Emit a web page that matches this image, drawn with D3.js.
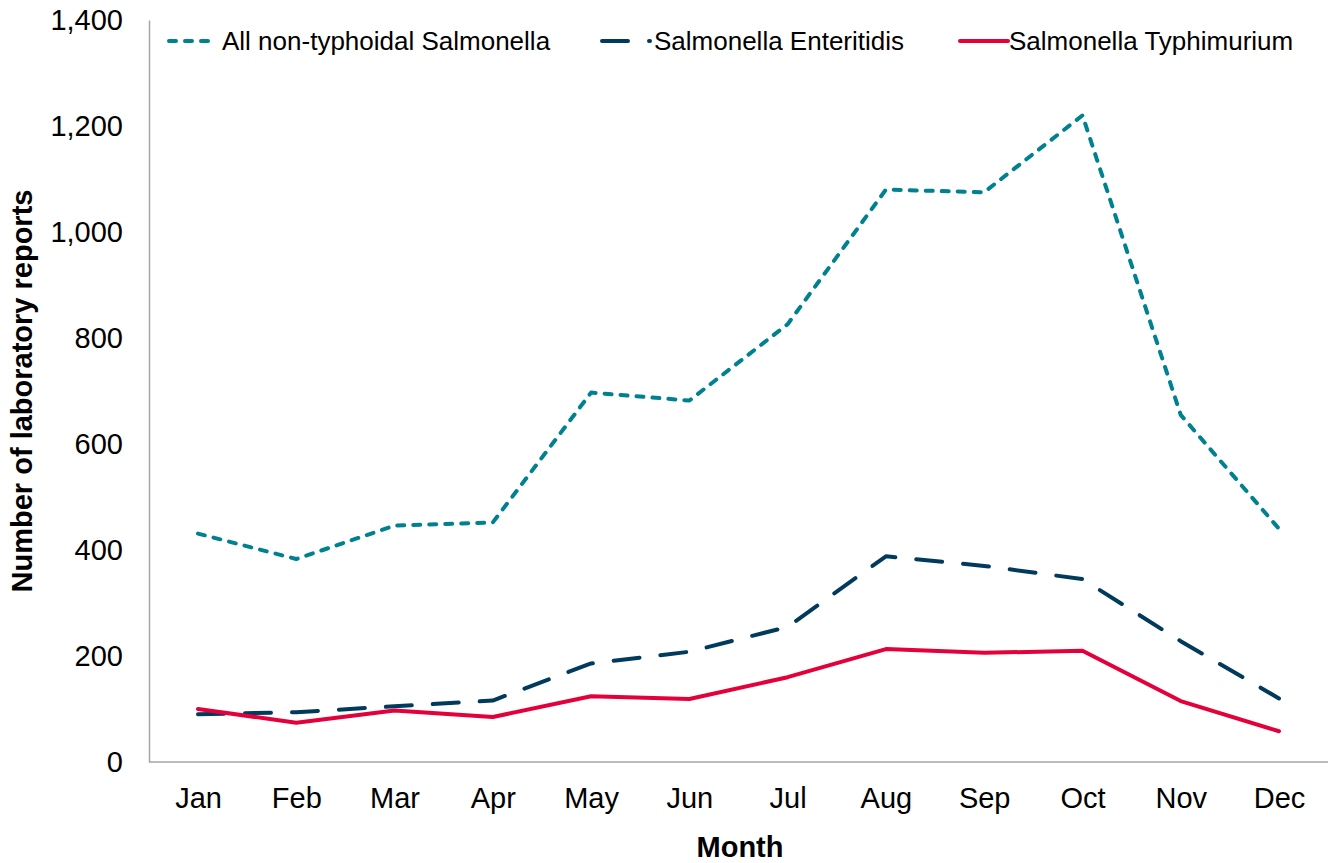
<!DOCTYPE html>
<html><head><meta charset="utf-8">
<script src="https://cdn.jsdelivr.net/npm/d3@7"></script>
<style>body{margin:0;background:#fff}svg{display:block;font-family:"Liberation Sans",Arial,sans-serif}</style>
</head><body><svg id="c" width="1334" height="863"></svg>
<script>
const months = ["Jan","Feb","Mar","Apr","May","Jun","Jul","Aug","Sep","Oct","Nov","Dec"];
const allNonTyphoidal = [431, 383, 446, 452, 697, 682, 826, 1080, 1075, 1220, 655, 440];
const enteritidis = [90, 94, 105, 116, 186, 208, 255, 388, 370, 345, 228, 120];
const typhimurium = [100, 74, 97, 85, 124, 119, 160, 213, 206, 210, 115, 58];
const yTicks = [0, 200, 400, 600, 800, 1000, 1200, 1400];
const seriesNames = ["All non-typhoidal Salmonella", "Salmonella Enteritidis", "Salmonella Typhimurium"];

(function(){
const svg = d3.select("#c");
const mLeft = 149, mRight = 1328, mTop = 20, mBottom = 762;
const x = d3.scalePoint().domain(months).range([198, 1279]);
const y = d3.scaleLinear().domain([0, 1400]).range([mBottom, mTop]);

const fmt = d3.format(",");
const yAxis = svg.append("g").attr("transform", `translate(${mLeft},0)`)
  .call(d3.axisLeft(y).tickValues(yTicks).tickFormat(fmt).tickSize(0).tickPadding(26));
yAxis.select(".domain").attr("stroke", "#a6a6a6").attr("stroke-width", 1.5);
yAxis.selectAll("text").attr("font-size", 29).attr("fill", "#000").attr("font-family", "Liberation Sans, Arial, sans-serif");

const xAxis = svg.append("g").attr("transform", `translate(0,${mBottom})`)
  .call(d3.axisBottom(x).tickSize(0).tickPadding(25));
xAxis.select(".domain").attr("d", `M${mLeft},0H${mRight}`).attr("stroke", "#a6a6a6").attr("stroke-width", 1.5);
xAxis.selectAll("text").attr("font-size", 29).attr("fill", "#000").attr("font-family", "Liberation Sans, Arial, sans-serif");

svg.append("text").attr("x", 740).attr("y", 857).attr("text-anchor", "middle")
  .attr("font-size", 29).attr("font-weight", "bold").text("Month");
svg.append("text").attr("transform", "translate(32,391) rotate(-90)").attr("text-anchor", "middle")
  .attr("font-size", 29).attr("font-weight", "bold").text("Number of laboratory reports");

const line = d3.line().x((d, i) => x(months[i])).y(d => y(d));
const styles = [
  {data: allNonTyphoidal, color: "#00818f", dash: "7,9"},
  {data: enteritidis, color: "#003a5d", dash: "26,21"},
  {data: typhimurium, color: "#e4003b", dash: null}
];
styles.forEach(s => {
  const p = svg.append("path").datum(s.data).attr("d", line)
    .attr("fill", "none").attr("stroke", s.color).attr("stroke-width", 4)
    .attr("stroke-linecap", "round").attr("stroke-linejoin", "round");
  if (s.dash) p.attr("stroke-dasharray", s.dash);
});

const leg = [
  {x1: 169, x2: 211, tx: 222, dash: "7,9"},
  {x1: 602, x2: 650, tx: 654, dash: "26,21"},
  {x1: 960, x2: 1008, tx: 1009, dash: null}
];
leg.forEach((l, i) => {
  const ln = svg.append("line").attr("x1", l.x1).attr("x2", l.x2).attr("y1", 41).attr("y2", 41)
    .attr("stroke", styles[i].color).attr("stroke-width", 4).attr("stroke-linecap", "round");
  if (l.dash) ln.attr("stroke-dasharray", l.dash);
  svg.append("text").attr("x", l.tx).attr("y", 50).attr("font-size", 26).attr("fill", "#000").text(seriesNames[i]);
});
})();
</script></body></html>
